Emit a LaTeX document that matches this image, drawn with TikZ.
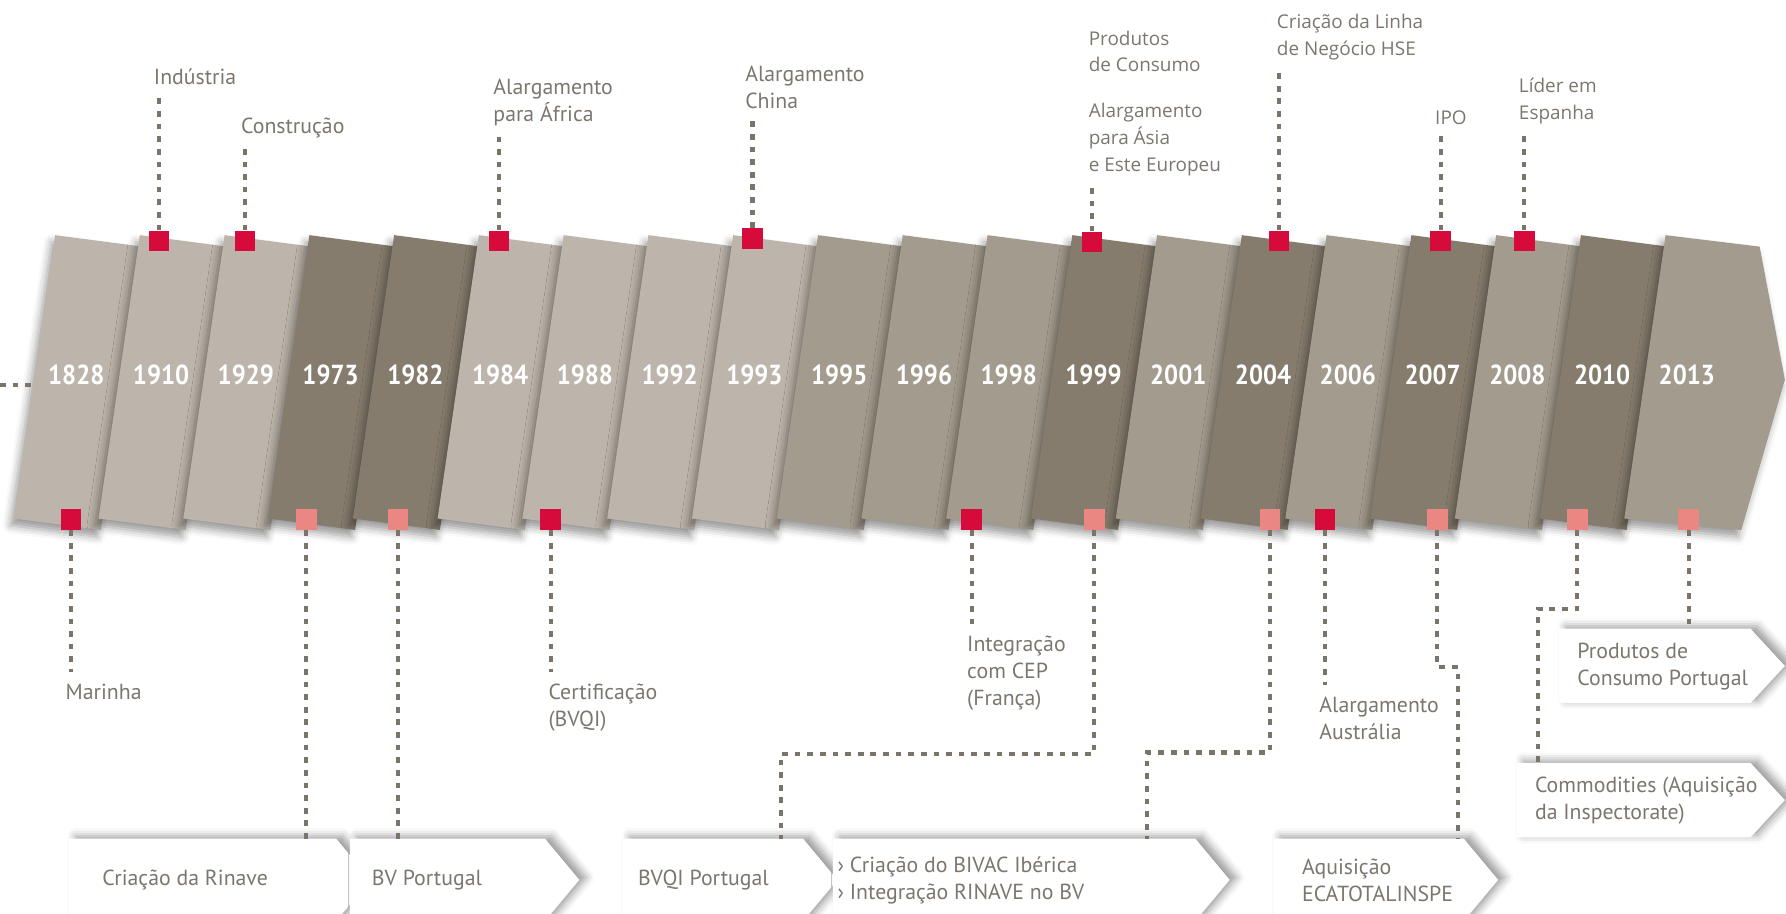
\documentclass[tikz,border=0pt]{standalone}
\usepackage{fontspec}
\setmainfont{PT Sans}
\newfontfamily\regfont{Open Sans}
\newfontfamily\yearfont[FakeStretch=0.9]{PT Sans}
\usetikzlibrary{shadows.blur}
\definecolor{tlite}{HTML}{BDB5AB}
\definecolor{tmid}{HTML}{A39B8D}
\definecolor{tdark}{HTML}{857C6D}
\definecolor{ink}{HTML}{7D766E}
\definecolor{dotc}{HTML}{7A746A}
\definecolor{hot}{HTML}{D70A3C}
\definecolor{soft}{HTML}{EB8782}
\tikzset{%
  panel/.style={blur shadow={shadow xshift=-3pt,shadow yshift=-6pt,%
      shadow blur radius=7pt,shadow opacity=40}},%
  year/.style={text=white,inner sep=0,font=\yearfont\bfseries\fontsize{24}{24}\selectfont},%
  conn/.style={draw=dotc,line width=3.5pt,dash pattern=on 5pt off 6pt},%
  sq/.style={rectangle,inner sep=0,minimum size=18pt},%
  hi/.style={sq,fill=hot},%
  lo/.style={sq,fill=soft},%
  lbl/.style={text=ink,inner sep=0,align=left,font=\fontsize{19}{23.5}\selectfont},%
  lblr/.style={lbl,font=\regfont\fontsize{16.5}{23.5}\selectfont},%
  chev/.style={fill=white,blur shadow={shadow xshift=6pt,shadow yshift=2pt,%
      shadow blur radius=7pt,shadow opacity=40}},%
  body/.style={rectangle,inner sep=0}%
}
\newcommand{\chevbox}[7]{% name, x, y, body width, height, text inset, text
  \fill[chev] (#2,#3) -- ++(#4,0) -- ++(30,#5/2) -- ++(-30,#5/2) -- ++(-#4,0) -- cycle;
  \node[body,minimum width=#4,minimum height=#5,anchor=north west] (#1) at (#2,#3) {};
  \node[lbl,anchor=west] (#1txt) at ([xshift=#6]#1.west) {#7};
}

\begin{document}
\begin{tikzpicture}[x=1pt,y=-1pt]
  \useasboundingbox (0,0) rectangle (1557,796);
  % panels
  \foreach \yr/\tone [count=\i from 0] in {1828/tlite,1910/tlite,1929/tlite,1973/tdark,
      1982/tdark,1984/tlite,1988/tlite,1992/tlite,1993/tlite,1995/tmid,1996/tmid,
      1998/tmid,1999/tdark,2001/tmid,2004/tdark,2006/tmid,2007/tdark,2008/tmid,2010/tdark} {
    \pgfmathsetmacro{\xl}{48+73.9*\i}
    \fill[\tone,panel] (\xl,205) -- (\xl+75.9,215) -- (\xl+39.9,462) -- (\xl-36,452) -- cycle;
    \node[year] (y\yr) at (\xl+18.5,327) {\yr};
  }
  \fill[tmid,panel] (1452,205) -- (1534,215) -- (1556,331) -- (1518,462) -- (1416,452) -- cycle;
  \node[year] (y2013) at (1470.5,327) {2013};
  % boxes
  \chevbox{bRin}{60}{731}{233}{72}{29}{Criação da Rinave}
  \chevbox{bBV}{305}{731}{170}{72}{19}{BV Portugal}
  \chevbox{bBVQI}{543}{731}{157}{72}{13}{BVQI Portugal}
  \chevbox{bBIV}{726}{731}{316}{72}{4}{› Criação do BIVAC Ibérica\\› Integração RINAVE no BV}
  \chevbox{bAqu}{1110}{731}{166}{72}{25}{Aquisição\\ECATOTALINSPE}
  \chevbox{bPro}{1359}{548}{167}{65}{16}{Produtos de\\Consumo Portugal}
  \chevbox{bCom}{1322}{665}{204}{65}{16}{Commodities (Aquisição\\da Inspectorate)}
  % markers above
  \node[hi] (mInd) at (138.5,210) {};
  \node[hi] (mCon) at (213.5,210) {};
  \node[hi] (mAfr) at (435,210) {};
  \node[hi] (mChi) at (656,208) {};
  \node[hi] (mAsi) at (952,211) {};
  \node[hi] (mHSE) at (1115,210) {};
  \node[hi] (mIPO) at (1256,210) {};
  \node[hi] (mLid) at (1329,210) {};
  % markers below
  \node[hi] (mMar)  at (62,453)   {};
  \node[lo] (mRin)  at (267,453)  {};
  \node[lo] (mBV)   at (347,453)  {};
  \node[hi] (mCer)  at (480,453)  {};
  \node[hi] (mCEP)  at (847,453)  {};
  \node[lo] (mBVQI) at (954,453)  {};
  \node[lo] (mBIV)  at (1107,453) {};
  \node[hi] (mAus)  at (1155,453) {};
  \node[lo] (mAqu)  at (1253,453) {};
  \node[lo] (mCom)  at (1375,453) {};
  \node[lo] (mPro)  at (1472,453) {};
  % labels above
  \node[lbl,anchor=north west]  (lInd) at (134,60)     {Indústria};
  \node[lbl,anchor=north west]  (lCon) at (210,103)    {Construção};
  \node[lbl,anchor=north west]  (lAfr) at (430,69)     {Alargamento\\para África};
  \node[lbl,anchor=north west]  (lChi) at (649.5,57.5) {Alargamento\\China};
  \node[lblr,anchor=north west] (lPro) at (949,26.5)   {Produtos\\de Consumo};
  \node[lblr,anchor=north west] (lAsi) at (949,89.5)   {Alargamento\\para Ásia\\e Este Europeu};
  \node[lblr,anchor=north west] (lHSE) at (1113,12.5)  {Criação da Linha\\de Negócio HSE};
  \node[lblr,anchor=north west] (lIPO) at (1251,96.5)  {IPO};
  \node[lblr,anchor=north west] (lLid) at (1324,67.5)  {Líder em\\Espanha};
  % labels below
  \node[lbl,anchor=north west] (lMar) at (57,596)     {Marinha};
  \node[lbl,anchor=north west] (lCer) at (478,596)    {Certificação\\(BVQI)};
  \node[lbl,anchor=north west] (lCEP) at (843,554)    {Integração\\com CEP\\(França)};
  \node[lbl,anchor=north west] (lAus) at (1150,607.5) {Alargamento\\Austrália};
  % dotted leads
  \coordinate (lead) at (0,336);
  \coordinate (edge) at (29,336);
  \draw[conn] (lead) -- (edge);
  \foreach \n in {Ind,Con,Afr,Chi,Asi,HSE,IPO,Lid}
    \draw[conn,shorten >=9pt] (m\n.north) -- (m\n.north |- l\n.south);
  \foreach \n in {Mar,Cer,CEP,Aus}
    \draw[conn,shorten >=10pt] (m\n.south) -- (m\n.south |- l\n.north);
  \foreach \n in {Rin,BV,Pro}
    \draw[conn] (m\n.south) -- (m\n.south |- b\n.north);
  \coordinate (kBVQI) at (681,657);
  \coordinate (kBIV)  at (1000,656);
  \coordinate (kAqu)  at (1271,581.5);
  \coordinate (kCom)  at (1341,531);
  \draw[conn] (mBVQI.south) |- (kBVQI) -- (kBVQI |- bBVQI.north);
  \draw[conn] (mBIV.south)  |- (kBIV)  -- (kBIV |- bBIV.north);
  \draw[conn] (mAqu.south)  |- (kAqu)  -- (kAqu |- bAqu.north);
  \draw[conn] (mCom.south)  |- (kCom)  -- (kCom |- bCom.north);
\end{tikzpicture}
\end{document}
